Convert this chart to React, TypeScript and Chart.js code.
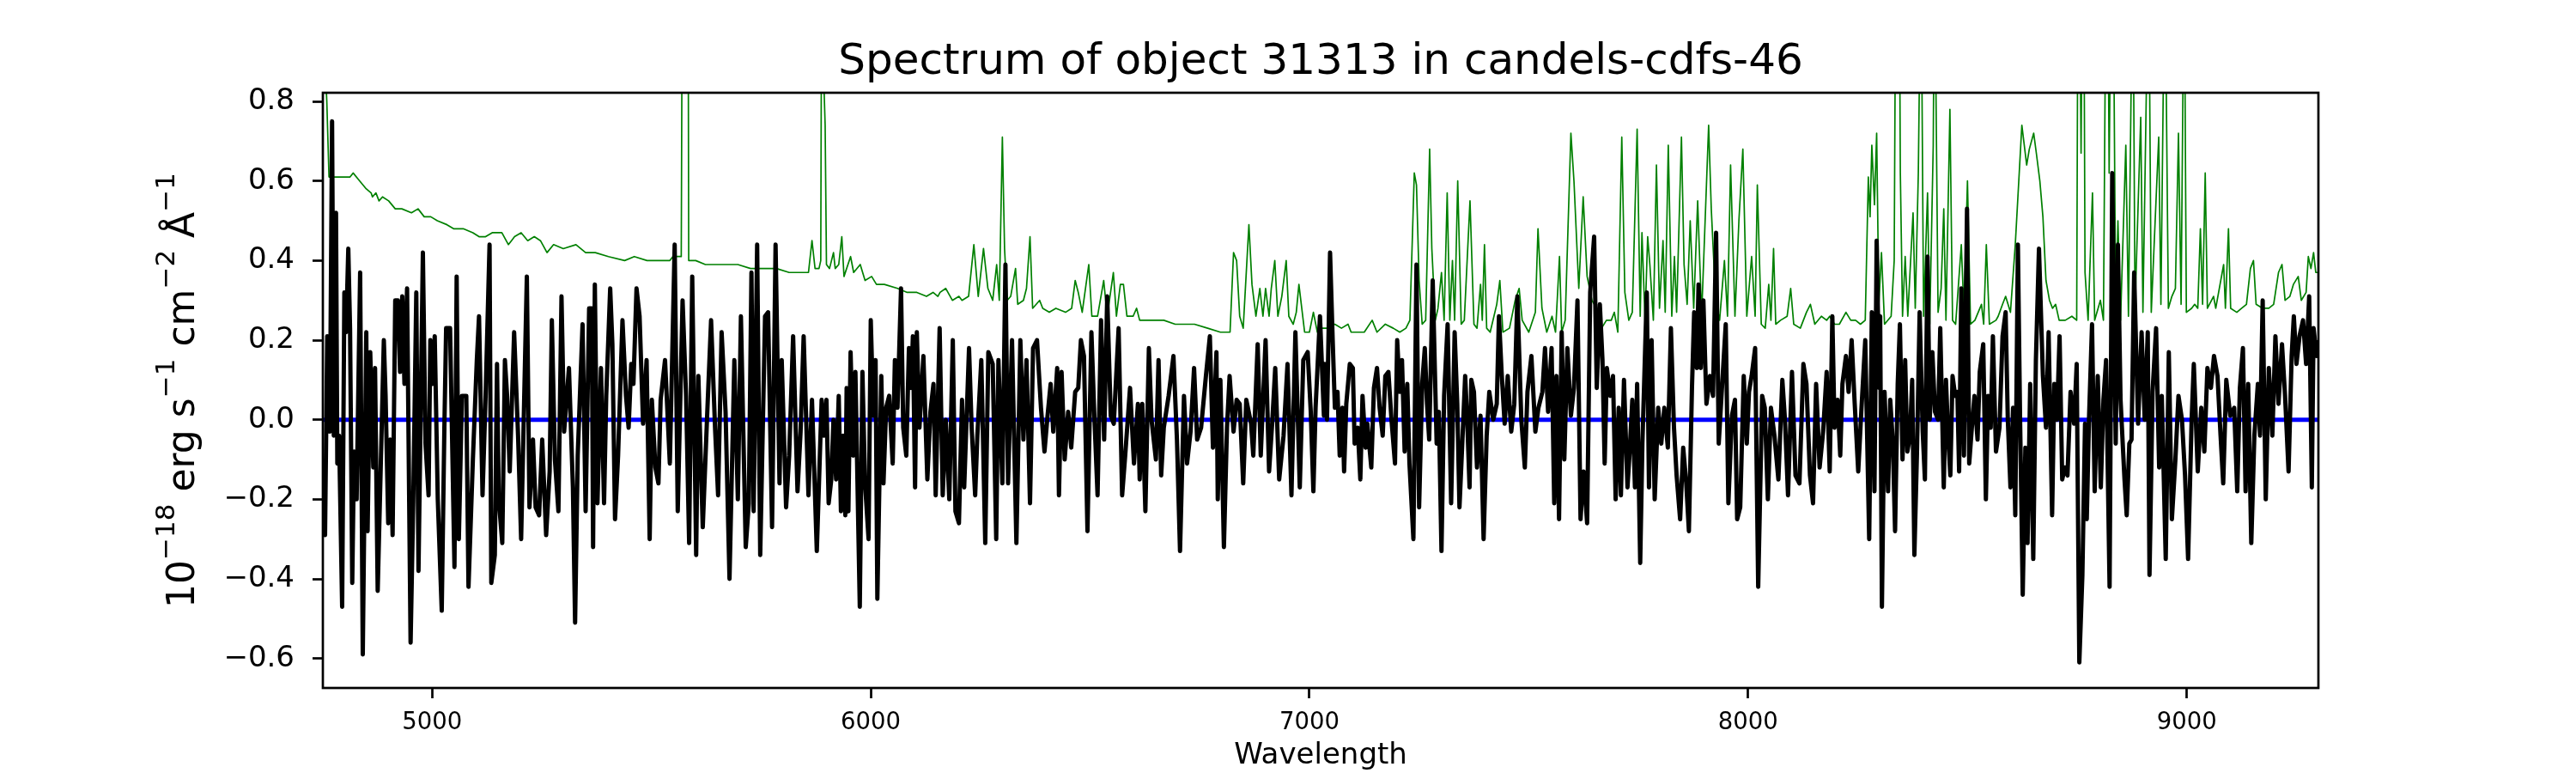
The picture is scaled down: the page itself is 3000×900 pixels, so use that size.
import React, { useEffect, useRef } from "react";
import { Chart, registerables } from "chart.js";

Chart.register(...registerables);

const FONT = "'DejaVu Sans', 'Liberation Sans', sans-serif";

const TITLE = "Spectrum of object 31313 in candels-cdfs-46";
const X_LABEL = "Wavelength";
const Y_LABEL_PARTS = [
  { text: "10", sup: false },
  { text: "\u221218", sup: true },
  { text: " erg s", sup: false },
  { text: "\u22121", sup: true },
  { text: " cm", sup: false },
  { text: "\u22122", sup: true },
  { text: " \u00c5", sup: false },
  { text: "\u22121", sup: true },
];

const X_MIN = 4751;
const X_MAX = 9300;
const Y_MIN = -0.674;
const Y_MAX = 0.8216;
const xTicks = [5000, 6000, 7000, 8000, 9000];
const yTicks = [-0.6, -0.4, -0.2, 0.0, 0.2, 0.4, 0.6, 0.8];

// object spectrum (black)
const objWave = [
  4751, 4756, 4761, 4767, 4772, 4776, 4781, 4784, 4788, 4795,
  4800, 4804, 4809, 4813, 4818, 4822, 4828, 4836, 4842, 4850,
  4853, 4859, 4866, 4870, 4876, 4890, 4894, 4900, 4905, 4910,
  4916, 4922, 4927, 4932, 4937, 4943, 4951, 4957, 4964, 4969,
  4979, 4985, 4992, 4996, 5001, 5006, 5013, 5022, 5028, 5032,
  5041, 5051, 5056, 5061, 5068, 5078, 5083, 5093, 5102, 5107,
  5115, 5122, 5131, 5135, 5143, 5148, 5152, 5160, 5166, 5171,
  5177, 5187, 5196, 5203, 5216, 5222, 5230, 5236, 5244, 5251,
  5260, 5268, 5273, 5280, 5288, 5295, 5301, 5312, 5321, 5326,
  5332, 5343, 5350, 5358, 5364, 5367, 5371, 5377, 5385, 5392,
  5397, 5406, 5411, 5417, 5424, 5434, 5442, 5448, 5454, 5459,
  5466, 5473, 5481, 5489, 5496, 5501, 5509, 5516, 5521, 5531,
  5542, 5553, 5560, 5571, 5579, 5586, 5593, 5602, 5607, 5617,
  5627, 5636, 5645, 5652, 5660, 5669, 5678, 5689, 5697, 5704,
  5715, 5722, 5728, 5733, 5741, 5748, 5759, 5766, 5775, 5783,
  5792, 5797, 5807, 5814, 5823, 5833, 5840, 5847, 5858, 5866,
  5877, 5888, 5893, 5899, 5904, 5910, 5915, 5921, 5927, 5932,
  5937, 5942, 5945, 5949, 5954, 5960, 5965, 5975, 5981, 5987,
  5995, 6000, 6006, 6011, 6015, 6024, 6029, 6035, 6042, 6050,
  6055, 6061, 6069, 6074, 6081, 6087, 6092, 6096, 6101, 6105,
  6111, 6120, 6129, 6136, 6143, 6148, 6157, 6164, 6171, 6179,
  6187, 6193, 6201, 6208, 6213, 6224, 6230, 6238, 6243, 6252,
  6261, 6268, 6278, 6286, 6291, 6300, 6307, 6313, 6322, 6332,
  6341, 6348, 6355, 6363, 6370, 6379, 6388, 6396, 6403, 6410,
  6416, 6425, 6429, 6435, 6442, 6450, 6457, 6466, 6473, 6479,
  6486, 6494, 6503, 6510, 6517, 6525, 6532, 6539, 6547, 6554,
  6565, 6573, 6580, 6591, 6600, 6609, 6613, 6619, 6626, 6634,
  6640, 6650, 6656, 6662, 6668, 6679, 6690, 6698, 6705, 6714,
  6721, 6729, 6737, 6744, 6753, 6764, 6773, 6780, 6788, 6791,
  6797, 6805, 6812, 6818, 6827, 6834, 6841, 6849, 6856, 6867,
  6872, 6882, 6889, 6900, 6908, 6915, 6922, 6931, 6941, 6950,
  6959, 6968, 6978, 6986, 6996, 7003, 7009, 7014, 7024, 7033,
  7035, 7040, 7047, 7053, 7058, 7064, 7069, 7075, 7079, 7084,
  7092, 7099, 7103, 7110, 7116, 7121, 7128, 7132, 7141, 7147,
  7154, 7160, 7167, 7173, 7180, 7187, 7195, 7200, 7206, 7211,
  7217, 7223, 7228, 7237, 7244, 7250, 7257, 7263, 7268, 7273,
  7281, 7290, 7295, 7301, 7307, 7315, 7323, 7331, 7337, 7342,
  7348, 7355, 7360, 7365, 7369, 7375, 7382, 7390, 7397, 7404,
  7410, 7419, 7427, 7432, 7438, 7445, 7452, 7460, 7467, 7474,
  7483, 7491, 7497, 7506, 7515, 7522, 7531, 7537, 7544, 7552,
  7558, 7563, 7569, 7575, 7581, 7588, 7596, 7603, 7611, 7618,
  7625, 7633, 7640, 7649, 7655, 7662, 7668, 7673, 7678, 7686,
  7692, 7698, 7705, 7710, 7717, 7725, 7730, 7736, 7742, 7747,
  7754, 7759, 7769, 7774, 7780, 7787, 7795, 7802, 7809, 7817,
  7824, 7831, 7837, 7845, 7852, 7859, 7865, 7872, 7877, 7883,
  7887, 7892, 7898, 7905, 7913, 7920, 7927, 7933, 7942, 7949,
  7955, 7963, 7970, 7975, 7982, 7990, 7997, 8002, 8008, 8016,
  8023, 8032, 8038, 8045, 8052, 8060, 8069, 8078, 8084, 8091,
  8100, 8108, 8117, 8126, 8133, 8141, 8148, 8155, 8163, 8171,
  8179, 8186, 8192, 8197, 8204, 8210, 8215, 8223, 8229, 8236,
  8243, 8251, 8258, 8267, 8276, 8282, 8288, 8293, 8299, 8301,
  8305, 8311, 8319, 8324, 8330, 8335, 8341, 8346, 8352, 8358,
  8363, 8369, 8374, 8379, 8385, 8391, 8398, 8403, 8409, 8414,
  8420, 8426, 8433, 8438, 8446, 8451, 8456, 8461, 8466, 8472,
  8477, 8481, 8486, 8492, 8499, 8504, 8510, 8516, 8523, 8528,
  8536, 8542, 8547, 8553, 8558, 8565, 8573, 8580, 8587, 8592,
  8598, 8604, 8609, 8615, 8620, 8626, 8632, 8637, 8643, 8650,
  8656, 8663, 8672, 8679, 8685, 8693, 8698, 8704, 8710, 8716,
  8722, 8728, 8735, 8743, 8749, 8755, 8762, 8768, 8772, 8777,
  8784, 8790, 8797, 8804, 8810, 8816, 8824, 8830, 8838, 8843,
  8849, 8858, 8863, 8869, 8874, 8880, 8889, 8897, 8904, 8911,
  8915, 8922, 8930, 8937, 8943, 8952, 8959, 8966, 8974, 8981,
  8989, 8996, 9003, 9011, 9016, 9025, 9033, 9040, 9047, 9055,
  9062, 9070, 9077, 9083, 9090, 9099, 9108, 9115, 9121, 9128,
  9134, 9140, 9147, 9154, 9162, 9167, 9173, 9180, 9187, 9195,
  9202, 9209, 9217, 9224, 9232, 9239, 9244, 9250, 9257, 9265,
  9272, 9279, 9285, 9289, 9296, 9300,
];
const objFlux = [
  -0.24, -0.29, 0.21, -0.03, 0.75, -0.04, 0.52, -0.11, -0.04, -0.47,
  0.32, 0.22, 0.43, 0.23, -0.41, -0.08, -0.2, 0.37, -0.59, 0.22,
  -0.28, 0.17, -0.12, 0.13, -0.43, 0.2, 0.06, -0.26, -0.05, -0.29,
  0.3, 0.3, 0.12, 0.31, 0.09, 0.33, -0.56, -0.21, 0.32, -0.38,
  0.42, -0.06, -0.19, 0.2, 0.09, 0.21, -0.2, -0.48, -0.02, 0.23,
  0.23, -0.37, 0.36, -0.3, 0.06, 0.06, -0.42, -0.1, 0.15, 0.26,
  -0.19, 0.06, 0.44, -0.41, -0.34, 0.14, -0.2, -0.31, 0.15, 0.06,
  -0.13, 0.22, -0.04, -0.3, 0.36, -0.22, -0.05, -0.22, -0.24, -0.05,
  -0.29, -0.13, 0.25, -0.1, -0.23, 0.31, -0.03, 0.13, -0.17, -0.51,
  -0.09, 0.24, -0.23, 0.28, 0.28, -0.32, 0.34, -0.21, 0.13, -0.21,
  0.06, 0.33, 0.19, -0.25, -0.09, 0.25, 0.06, -0.02, 0.14, 0.09,
  0.33, 0.26, -0.01, 0.15, -0.3, 0.05, -0.12, -0.16, 0.05, 0.15,
  -0.11, 0.44, -0.23, 0.3, 0.06, -0.31, 0.36, -0.34, 0.11, -0.27,
  0.01, 0.25, -0.02, -0.19, 0.22, 0.02, -0.4, 0.15, -0.2, 0.26,
  -0.32, -0.21, 0.37, -0.23, 0.44, -0.34, 0.26, 0.27, -0.27, 0.44,
  -0.16, 0.15, -0.22, -0.09, 0.21, -0.18, -0.03, 0.21, -0.19, 0.05,
  -0.33, 0.05, -0.04, 0.05, -0.21, -0.15, 0.0, -0.15, 0.06, -0.23,
  -0.04, -0.24, 0.08, -0.23, 0.17, -0.09, 0.12, -0.47, 0.12, -0.16,
  -0.3, 0.25, 0.01, 0.15, -0.45, 0.11, -0.16, 0.03, 0.06, -0.11,
  0.15, 0.03, 0.33, -0.02, -0.09, 0.18, 0.08, 0.21, -0.17, 0.22,
  -0.02, 0.16, -0.15, 0.02, 0.09, -0.19, 0.23, -0.19, 0.0, -0.2,
  0.2, -0.23, -0.26, 0.05, -0.17, 0.18, -0.02, -0.19, -0.04, 0.15,
  -0.31, 0.17, 0.14, -0.3, 0.15, -0.16, 0.39, -0.16, 0.2, -0.31,
  0.2, -0.05, 0.15, -0.21, 0.18, 0.2, 0.03, -0.08, 0.01, 0.09,
  -0.03, 0.13, -0.19, 0.12, -0.1, 0.02, -0.07, 0.07, 0.08, 0.2,
  0.16, -0.28, 0.22, 0.0, -0.19, 0.25, -0.05, 0.31, 0.01, -0.01,
  0.23, -0.19, -0.09, 0.08, -0.11, 0.04, -0.15, 0.04, -0.23, 0.18,
  0.0, -0.1, 0.15, -0.14, -0.02, 0.06, 0.16, -0.05, -0.33, 0.06,
  -0.11, -0.03, 0.13, -0.05, -0.02, 0.11, 0.21, -0.07, 0.17, -0.2,
  0.1, -0.32, -0.02, 0.11, -0.03, 0.05, 0.04, -0.16, 0.05, -0.01,
  -0.09, 0.19, -0.09, 0.2, -0.13, -0.01, 0.13, -0.15, -0.04, 0.14,
  -0.19, 0.22, -0.17, 0.15, 0.17, 0.02, -0.18, 0.03, 0.26, 0.01,
  0.14, 0.0, 0.42, 0.2, 0.03, 0.07, -0.09, 0.03, -0.13, 0.04,
  0.14, 0.13, -0.06, -0.02, -0.15, 0.06, -0.07, -0.01, -0.12, 0.08,
  0.13, 0.03, -0.04, 0.11, 0.12, 0.0, -0.11, 0.2, 0.07, 0.15,
  -0.08, 0.09, -0.11, -0.3, 0.39, -0.22, 0.09, 0.18, 0.04, -0.05,
  0.35, -0.06, 0.02, -0.33, 0.06, 0.24, -0.21, 0.22, 0.04, -0.22,
  -0.07, 0.11, -0.01, -0.17, 0.1, 0.07, -0.12, 0.01, -0.3, -0.04,
  0.07, 0.0, 0.04, 0.26, 0.12, -0.01, 0.11, -0.03, 0.04, 0.31,
  0.0, -0.12, 0.07, 0.16, -0.03, 0.03, 0.07, 0.18, 0.02, 0.18,
  -0.21, 0.11, -0.25, 0.22, -0.1, 0.18, 0.01, 0.08, 0.3, -0.25,
  -0.13, -0.26, 0.32, 0.46, 0.08, 0.29, 0.15, -0.11, 0.13, 0.06,
  0.11, -0.2, 0.03, -0.19, 0.1, -0.17, -0.08, 0.05, -0.17, 0.09,
  -0.36, -0.06, 0.32, -0.17, 0.2, -0.2, 0.03, -0.06, 0.03, -0.07,
  0.23, -0.02, -0.14, -0.25, -0.07, -0.16, -0.28, 0.08, 0.27, 0.13,
  0.34, 0.13, 0.3, 0.04, 0.11, 0.06, 0.47, -0.06, 0.11, 0.24,
  -0.21, 0.01, 0.05, -0.25, -0.22, 0.11, -0.06, 0.07, 0.11, 0.18,
  -0.42, 0.06, 0.03, -0.2, 0.03, -0.04, -0.15, 0.1, 0.0, -0.19,
  0.12, -0.14, -0.16, 0.14, 0.09, -0.14, -0.21, 0.09, -0.12, -0.03,
  0.12, -0.13, 0.26, -0.02, 0.05, -0.09, 0.09, 0.16, 0.07, 0.2,
  0.04, -0.13, 0.02, 0.2, -0.3, 0.27, -0.18, 0.45, 0.08, 0.26,
  -0.47, 0.07, -0.18, 0.05, -0.06, -0.28, 0.09, 0.24, -0.1, 0.15,
  -0.08, -0.04, 0.1, -0.34, -0.08, 0.27, -0.03, -0.15, 0.41, 0.0,
  0.17, 0.02, 0.0, 0.23, -0.17, 0.1, -0.04, -0.14, 0.11, 0.06,
  0.07, -0.13, 0.33, -0.09, 0.53, -0.11, -0.02, 0.06, -0.05, 0.12,
  0.19, -0.2, 0.06, -0.02, 0.21, -0.08, -0.02, 0.21, 0.27, 0.0,
  -0.17, 0.03, -0.24, 0.44, 0.0, -0.44, -0.07, -0.31, 0.09, -0.35,
  0.15, 0.43, 0.11, -0.02, 0.22, -0.24, 0.09, 0.0, 0.21, -0.15,
  -0.12, -0.14, 0.07, -0.01, 0.14, -0.61, -0.39, -0.01, -0.25, 0.0,
  0.24, -0.18, 0.11, -0.17, 0.05, 0.15, -0.42, 0.62, -0.06, 0.44,
  0.05, -0.15, -0.24, -0.06, -0.05, 0.37, -0.01, 0.22, 0.0, 0.22,
  -0.39, 0.07, 0.23, -0.12, 0.06, -0.35, 0.17, -0.25, -0.1, 0.06,
  0.0, -0.14, -0.35, 0.0, 0.14, -0.13, 0.03, -0.08, 0.13, 0.08,
  0.16, 0.11, -0.04, -0.16, 0.1, 0.01, 0.03, -0.18, 0.08, 0.18,
  -0.18, 0.09, -0.31, -0.04, 0.09, -0.04, 0.3, -0.2, 0.13, -0.04,
  0.21, 0.04, 0.19, 0.06, -0.13, 0.16, 0.26, 0.14, 0.21, 0.25,
  0.14, 0.31, -0.17, 0.23, 0.16, 0.2,
];

// sky spectrum (green)
const skyWave = [
  4752, 4760, 4765, 4776, 4791, 4802, 4813, 4820, 4835, 4850,
  4861, 4864, 4872, 4879, 4887, 4901, 4916, 4931, 4953, 4968,
  4982, 4997, 5012, 5034, 5049, 5071, 5093, 5107, 5122, 5137,
  5159, 5174, 5181, 5188, 5203, 5218, 5233, 5247, 5262, 5277,
  5299, 5328, 5350, 5372, 5402, 5439, 5461, 5490, 5520, 5542,
  5549, 5557, 5568, 5573, 5582, 5585, 5601, 5623, 5645, 5667,
  5697, 5726, 5755, 5785, 5814, 5836, 5858, 5866, 5873, 5882,
  5886, 5889, 5893, 5896, 5899, 5906, 5915, 5919, 5927, 5934,
  5939, 5954, 5961, 5976, 5987, 6002, 6013, 6031, 6061, 6083,
  6105, 6127, 6142, 6153, 6158, 6171, 6186, 6201, 6208, 6223,
  6235, 6245, 6257, 6267, 6278, 6287, 6293, 6300, 6305, 6311,
  6319, 6330, 6335, 6348, 6355, 6363, 6369, 6385, 6392, 6407,
  6422, 6444, 6458, 6466, 6473, 6482, 6497, 6504, 6517, 6531,
  6539, 6553, 6560, 6569, 6576, 6584, 6598, 6606, 6613, 6631,
  6650, 6668, 6694, 6716, 6738, 6768, 6797, 6819, 6827, 6834,
  6841, 6849, 6862, 6869, 6878, 6887, 6894, 6900, 6908, 6913,
  6921, 6928, 6937, 6947, 6953, 6963, 6970, 6976, 6989, 7000,
  7009, 7018, 7025, 7040, 7058, 7073, 7088, 7095, 7110, 7125,
  7143, 7154, 7173, 7191, 7206, 7220, 7229, 7239, 7244, 7250,
  7257, 7265, 7274, 7279, 7287, 7293, 7301, 7307, 7314, 7320,
  7326, 7331, 7338, 7346, 7353, 7366, 7375, 7382, 7390, 7394,
  7399, 7404, 7412, 7427, 7434, 7441, 7456, 7469, 7478, 7485,
  7500, 7515, 7521, 7530, 7541, 7553, 7561, 7570, 7575, 7583,
  7596, 7603, 7614, 7624, 7633, 7644, 7655, 7666, 7677, 7688,
  7695, 7703, 7712, 7719, 7728, 7736, 7747, 7754, 7758, 7765,
  7771, 7776, 7784, 7791, 7798, 7806, 7811, 7818, 7826, 7832,
  7837, 7848, 7854, 7861, 7868, 7876, 7885, 7894, 7910, 7916,
  7926, 7935, 7946, 7953, 7960, 7970, 7979, 7988, 7997, 8008,
  8016, 8021, 8030, 8039, 8047, 8052, 8058, 8063, 8074, 8089,
  8097, 8104, 8119, 8133, 8142, 8152, 8167, 8179, 8186, 8197,
  8208, 8223, 8234, 8245, 8256, 8267, 8274, 8278, 8282, 8288,
  8293, 8298, 8304, 8311, 8326, 8333, 8338, 8343, 8347, 8352,
  8358, 8364, 8376, 8381, 8388, 8394, 8400, 8409, 8414, 8422,
  8425, 8433, 8440, 8446, 8451, 8460, 8466, 8473, 8486, 8492,
  8500, 8507, 8517, 8532, 8537, 8543, 8550, 8565, 8570, 8580,
  8587, 8598, 8609, 8617, 8624, 8635, 8641, 8651, 8657, 8665,
  8672, 8679, 8687, 8694, 8701, 8709, 8723, 8738, 8749, 8753,
  8759, 8764, 8768, 8775, 8785, 8790, 8803, 8810, 8818, 8823,
  8830, 8838, 8843, 8849, 8861, 8867, 8877, 8882, 8895, 8900,
  8913, 8919, 8936, 8941, 8950, 8958, 8966, 8974, 8981, 8987,
  8994, 8999, 9011, 9018, 9025, 9031, 9036, 9042, 9047, 9061,
  9066, 9084, 9088, 9095, 9100, 9114, 9125, 9136, 9145, 9152,
  9158, 9173, 9187, 9198, 9209, 9217, 9224, 9235, 9243, 9254,
  9261, 9272, 9277, 9283, 9289, 9294, 9300,
];
const skyFlux = [
  1.0, 0.8, 0.61, 0.61, 0.61, 0.61, 0.61, 0.62, 0.6, 0.58,
  0.57, 0.56, 0.57, 0.55, 0.56, 0.55, 0.53, 0.53, 0.52, 0.53,
  0.51, 0.51, 0.5, 0.49, 0.48, 0.48, 0.47, 0.46, 0.46, 0.47,
  0.47, 0.44, 0.45, 0.46, 0.47, 0.45, 0.46, 0.45, 0.42, 0.44,
  0.43, 0.44, 0.42, 0.42, 0.41, 0.4, 0.41, 0.4, 0.4, 0.4,
  0.41, 0.41, 0.41, 2.0, 2.0, 0.4, 0.4, 0.39, 0.39, 0.39,
  0.39, 0.38, 0.38, 0.38, 0.37, 0.37, 0.37, 0.45, 0.38, 0.38,
  0.4, 1.5, 0.85, 0.74, 0.39, 0.38, 0.42, 0.38, 0.39, 0.46,
  0.36, 0.41, 0.37, 0.39, 0.35, 0.36, 0.34, 0.34, 0.33, 0.32,
  0.32, 0.31, 0.32, 0.31, 0.32, 0.33, 0.3, 0.31, 0.3, 0.31,
  0.44, 0.31, 0.43, 0.33, 0.3, 0.39, 0.3, 0.71, 0.43, 0.3,
  0.31, 0.38, 0.29, 0.3, 0.33, 0.46, 0.28, 0.3, 0.28, 0.27,
  0.28, 0.27, 0.28, 0.35, 0.32, 0.27, 0.39, 0.26, 0.26, 0.35,
  0.26, 0.37, 0.26, 0.34, 0.34, 0.26, 0.26, 0.28, 0.25, 0.25,
  0.25, 0.25, 0.24, 0.24, 0.24, 0.23, 0.22, 0.22, 0.42, 0.4,
  0.26, 0.23, 0.49, 0.34, 0.26, 0.33, 0.26, 0.33, 0.26, 0.33,
  0.4, 0.26, 0.31, 0.4, 0.26, 0.24, 0.27, 0.34, 0.22, 0.22,
  0.27, 0.22, 0.23, 0.23, 0.24, 0.23, 0.24, 0.22, 0.22, 0.22,
  0.25, 0.22, 0.24, 0.23, 0.22, 0.23, 0.25, 0.62, 0.59, 0.35,
  0.24, 0.25, 0.68, 0.43, 0.25, 0.28, 0.37, 0.25, 0.57, 0.25,
  0.4, 0.25, 0.6, 0.24, 0.25, 0.55, 0.24, 0.23, 0.34, 0.25,
  0.44, 0.23, 0.22, 0.29, 0.35, 0.22, 0.23, 0.3, 0.33, 0.25,
  0.22, 0.27, 0.48, 0.28, 0.22, 0.26, 0.22, 0.41, 0.22, 0.25,
  0.72, 0.6, 0.33, 0.56, 0.36, 0.3, 0.28, 0.23, 0.25, 0.25,
  0.27, 0.22, 0.71, 0.32, 0.25, 0.27, 0.73, 0.26, 0.47, 0.25,
  0.46, 0.39, 0.25, 0.64, 0.28, 0.45, 0.27, 0.69, 0.26, 0.41,
  0.27, 0.71, 0.39, 0.29, 0.5, 0.28, 0.55, 0.26, 0.74, 0.53,
  0.3, 0.25, 0.4, 0.26, 0.64, 0.26, 0.5, 0.68, 0.26, 0.41,
  0.26, 0.59, 0.24, 0.23, 0.34, 0.25, 0.43, 0.24, 0.25, 0.26,
  0.33, 0.24, 0.23, 0.27, 0.29, 0.24, 0.26, 0.25, 0.26, 0.24,
  0.24, 0.27, 0.25, 0.25, 0.24, 0.25, 0.61, 0.51, 0.69, 0.54,
  0.72, 0.29, 0.42, 0.24, 0.26, 0.4, 1.5, 1.5, 0.62, 0.26,
  0.41, 0.26, 0.52, 0.28, 0.62, 1.2, 0.26, 0.57, 0.24, 0.69,
  1.2, 0.27, 0.33, 0.53, 0.25, 0.78, 0.25, 0.24, 0.44, 0.27,
  0.6, 0.24, 0.25, 0.29, 0.24, 0.44, 0.24, 0.25, 0.26, 0.29,
  0.31, 0.27, 0.44, 0.6, 0.74, 0.64, 0.68, 0.72, 0.67, 0.6,
  0.51, 0.35, 0.3, 0.28, 0.29, 0.25, 0.25, 0.26, 0.25, 1.5,
  0.67, 1.5, 0.37, 0.25, 0.57, 0.25, 0.3, 0.25, 1.5, 0.62,
  1.5, 0.25, 0.5, 0.25, 0.69, 0.26, 1.2, 0.28, 0.76, 0.27,
  1.2, 0.27, 0.71, 0.29, 1.2, 0.28, 0.31, 0.33, 0.72, 0.29,
  1.2, 0.27, 0.28, 0.29, 0.28, 0.48, 0.29, 0.62, 0.28, 0.31,
  0.28, 0.39, 0.28, 0.48, 0.28, 0.27, 0.28, 0.29, 0.38, 0.4,
  0.29, 0.28, 0.28, 0.29, 0.37, 0.39, 0.3, 0.31, 0.34, 0.36,
  0.3, 0.32, 0.41, 0.38, 0.42, 0.37, 0.37,
];

// zero level (blue)
const zeroWave = [4751, 9300];
const zeroFlux = [0, 0];

function toPoints(xs: number[], ys: number[]) {
  const n = Math.min(xs.length, ys.length);
  const out: { x: number; y: number }[] = [];
  for (let i = 0; i < n; i++) out.push({ x: xs[i], y: ys[i] });
  return out;
}

const decorPlugin = {
  id: "decor",
  afterDraw(chart: any) {
    const ctx = chart.ctx as CanvasRenderingContext2D;
    const a = chart.chartArea;
    ctx.save();
    // frame
    ctx.strokeStyle = "#000";
    ctx.lineWidth = 2.7;
    ctx.strokeRect(a.left, a.top, a.right - a.left, a.bottom - a.top);
    const cx = (a.left + a.right) / 2;
    ctx.fillStyle = "#000";
    ctx.textAlign = "center";
    ctx.textBaseline = "alphabetic";
    // title
    ctx.font = `50px ${FONT}`;
    ctx.fillText(TITLE, cx, a.top - 22);
    // x label
    ctx.font = `34px ${FONT}`;
    ctx.fillText(X_LABEL, cx, a.bottom + 88);
    // y label with superscripts
    const mainFont = `44px ${FONT}`;
    const supFont = `31px ${FONT}`;
    let total = 0;
    for (const p of Y_LABEL_PARTS) {
      ctx.font = p.sup ? supFont : mainFont;
      total += ctx.measureText(p.text).width;
    }
    ctx.translate(a.left - 150, (a.top + a.bottom) / 2);
    ctx.rotate(-Math.PI / 2);
    ctx.textAlign = "left";
    let x = -total / 2;
    for (const p of Y_LABEL_PARTS) {
      ctx.font = p.sup ? supFont : mainFont;
      ctx.fillText(p.text, x, p.sup ? -23 : 0);
      x += ctx.measureText(p.text).width;
    }
    ctx.restore();
  },
};

export default function App() {
  const ref = useRef<HTMLCanvasElement>(null);

  useEffect(() => {
    const canvas = ref.current;
    if (!canvas) return;
    const gridCfg = {
      display: true,
      drawOnChartArea: false,
      drawTicks: true,
      tickLength: 12,
      tickWidth: 2.7,
      tickColor: "#000",
    };
    const chart = new Chart(canvas, {
      type: "line",
      data: {
        datasets: [
          {
            label: "object",
            data: toPoints(objWave, objFlux),
            borderColor: "#000000",
            borderWidth: 5,
            borderJoinStyle: "round",
            pointRadius: 0,
            tension: 0,
            fill: false,
            order: 0,
          },
          {
            label: "zero",
            data: toPoints(zeroWave, zeroFlux),
            borderColor: "#0000ff",
            borderWidth: 5,
            pointRadius: 0,
            tension: 0,
            fill: false,
            order: 1,
          },
          {
            label: "sky",
            data: toPoints(skyWave, skyFlux),
            borderColor: "#008000",
            borderWidth: 1.7,
            borderJoinStyle: "round",
            pointRadius: 0,
            tension: 0,
            fill: false,
            order: 2,
          },
        ],
      },
      options: {
        responsive: false,
        animation: false,
        devicePixelRatio: 1,
        events: [],
        layout: { padding: { left: 0, top: 108, right: 300, bottom: 0 } },
        plugins: {
          legend: { display: false },
          title: { display: false },
          tooltip: { enabled: false },
        },
        scales: {
          x: {
            type: "linear",
            min: X_MIN,
            max: X_MAX,
            border: { display: false },
            grid: gridCfg,
            afterBuildTicks: (s: any) => {
              s.ticks = xTicks.map((v) => ({ value: v }));
            },
            afterFit: (s: any) => {
              s.height = 99;
            },
            ticks: {
              color: "#000",
              font: { family: FONT, size: 27.5 },
              padding: 12,
              maxRotation: 0,
              autoSkip: false,
              callback: (v: any) => String(v),
            },
          },
          y: {
            type: "linear",
            min: Y_MIN,
            max: Y_MAX,
            border: { display: false },
            grid: gridCfg,
            afterBuildTicks: (s: any) => {
              s.ticks = yTicks.map((v) => ({ value: v }));
            },
            afterFit: (s: any) => {
              s.width = 376;
            },
            ticks: {
              color: "#000",
              font: { family: FONT, size: 34 },
              padding: 21,
              autoSkip: false,
              callback: (v: any) => Number(v).toFixed(1).replace("-", "\u2212"),
            },
          },
        },
      },
      plugins: [decorPlugin],
    } as any);
    return () => chart.destroy();
  }, []);

  return (
    <div style={{ position: "absolute", left: 0, top: 0, width: 3000, height: 900, background: "#fff" }}>
      <canvas ref={ref} width={3000} height={900} style={{ display: "block", width: 3000, height: 900 }} />
    </div>
  );
}
